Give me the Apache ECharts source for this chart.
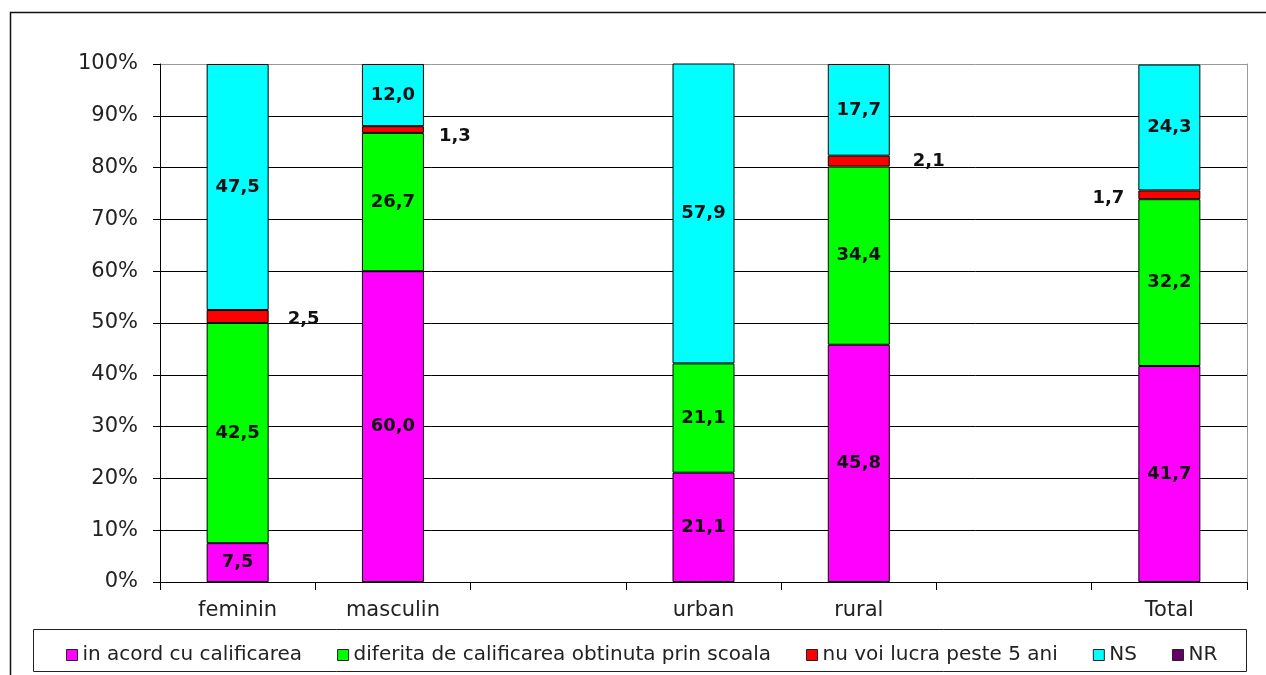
<!DOCTYPE html>
<html>
<head>
<meta charset="utf-8">
<script src="https://cdn.jsdelivr.net/npm/echarts@6/dist/echarts.min.js"></script>
<style>
html,body{margin:0;padding:0;background:#fff;}
#c{width:1266px;height:675px;}
</style>
</head>
<body>
<div id="c"></div>
<script>
const categories = ['feminin', 'masculin', '', 'urban', 'rural', '', 'Total'];
const seriesNames = ['in acord cu calificarea', 'diferita de calificarea obtinuta prin scoala', 'nu voi lucra peste 5 ani', 'NS', 'NR'];
const inAcord   = [7.5, 60.0, null, 21.1, 45.8, null, 41.7];
const diferita  = [42.5, 26.7, null, 21.1, 34.4, null, 32.2];
const nuVoi     = [2.5, 1.3, null, null, 2.1, null, 1.7];
const ns        = [47.5, 12.0, null, 57.9, 17.7, null, 24.3];
const nr        = [null, null, null, null, null, null, null];
const yTicks = [0, 10, 20, 30, 40, 50, 60, 70, 80, 90, 100];

const colors = ['#FF00FF', '#00FF00', '#FF0000', '#00FFFF', '#660066'];
const fmt = v => (v == null ? '' : v.toFixed(1).replace('.', ','));

const labelFont = {fontFamily: 'DejaVu Sans', fontWeight: 'bold', fontSize: 18, color: '#111'};

// side label placement for the thin red segment
const redLabelPos = ['right', 'right', 'right', 'right', 'right', 'right', 'left'];
const redLabelDist = [19, 15, 15, 15, 23, 15, 14];
const redLabelOffset = [[0, 3], [0, 7], [0, 0], [0, 0], [0, 0], [0, 0], [0, 4]];

function mk(name, values, idx) {
  return {
    name: name,
    type: 'bar',
    stack: 'total',
    barWidth: 62,
    itemStyle: {color: colors[idx], borderColor: '#000', borderWidth: 1},
    label: Object.assign({show: idx !== 4, position: 'inside', formatter: p => fmt(p.value)}, labelFont),
    emphasis: {disabled: true},
    data: values.map((v, i) => {
      if (idx === 2) {
        return {value: v, label: {position: redLabelPos[i], distance: redLabelDist[i], offset: redLabelOffset[i]}};
      }
      return v;
    })
  };
}

const chart = echarts.init(document.getElementById('c'));
chart.setOption({
  animation: false,
  backgroundColor: '#fff',
  grid: {left: 160, right: 19, top: 64, bottom: 93, containLabel: false},
  legend: {
    data: seriesNames,
    left: 61,
    top: 640,
    itemWidth: 11,
    itemHeight: 11,
    itemGap: 35,
    icon: 'rect',
    itemStyle: {borderColor: '#222', borderWidth: 1},
    textStyle: {fontFamily: 'DejaVu Sans', fontSize: 20, color: '#222'},
    selectedMode: false
  },
  xAxis: {
    type: 'category',
    data: categories,
    axisLine: {lineStyle: {color: '#000', width: 1}},
    axisTick: {show: true, length: 8, lineStyle: {color: '#000'}},
    axisLabel: {fontFamily: 'DejaVu Sans', fontSize: 21, color: '#222', margin: 18, interval: 0}
  },
  yAxis: [{
    type: 'value',
    min: 0, max: 100, interval: 10,
    axisLine: {show: true, lineStyle: {color: '#000', width: 1}},
    axisTick: {show: true, length: 7, lineStyle: {color: '#000'}},
    axisLabel: {fontFamily: 'DejaVu Sans', fontSize: 21, color: '#222', margin: 22, formatter: v => v + '%'},
    splitLine: {show: true, lineStyle: {color: yTicks.map(t => t === 100 ? '#999' : '#000'), width: 1}}
  }, {
    type: 'value',
    position: 'right',
    min: 0, max: 100, interval: 10,
    axisLine: {show: true, lineStyle: {color: '#999', width: 1}},
    axisTick: {show: false},
    axisLabel: {show: false},
    splitLine: {show: false}
  }],
  graphic: [
    {type: 'rect', shape: {x: 10.5, y: 12.5, width: 1400, height: 800}, style: {fill: null, stroke: '#111', lineWidth: 1.5}, silent: true, z: -1},
    {type: 'rect', shape: {x: 33.5, y: 629.5, width: 1213, height: 42}, style: {fill: null, stroke: '#222', lineWidth: 1}, silent: true, z: -1}
  ],
  series: [
    mk(seriesNames[0], inAcord, 0),
    mk(seriesNames[1], diferita, 1),
    mk(seriesNames[2], nuVoi, 2),
    mk(seriesNames[3], ns, 3),
    mk(seriesNames[4], nr, 4)
  ]
});
</script>
</body>
</html>
